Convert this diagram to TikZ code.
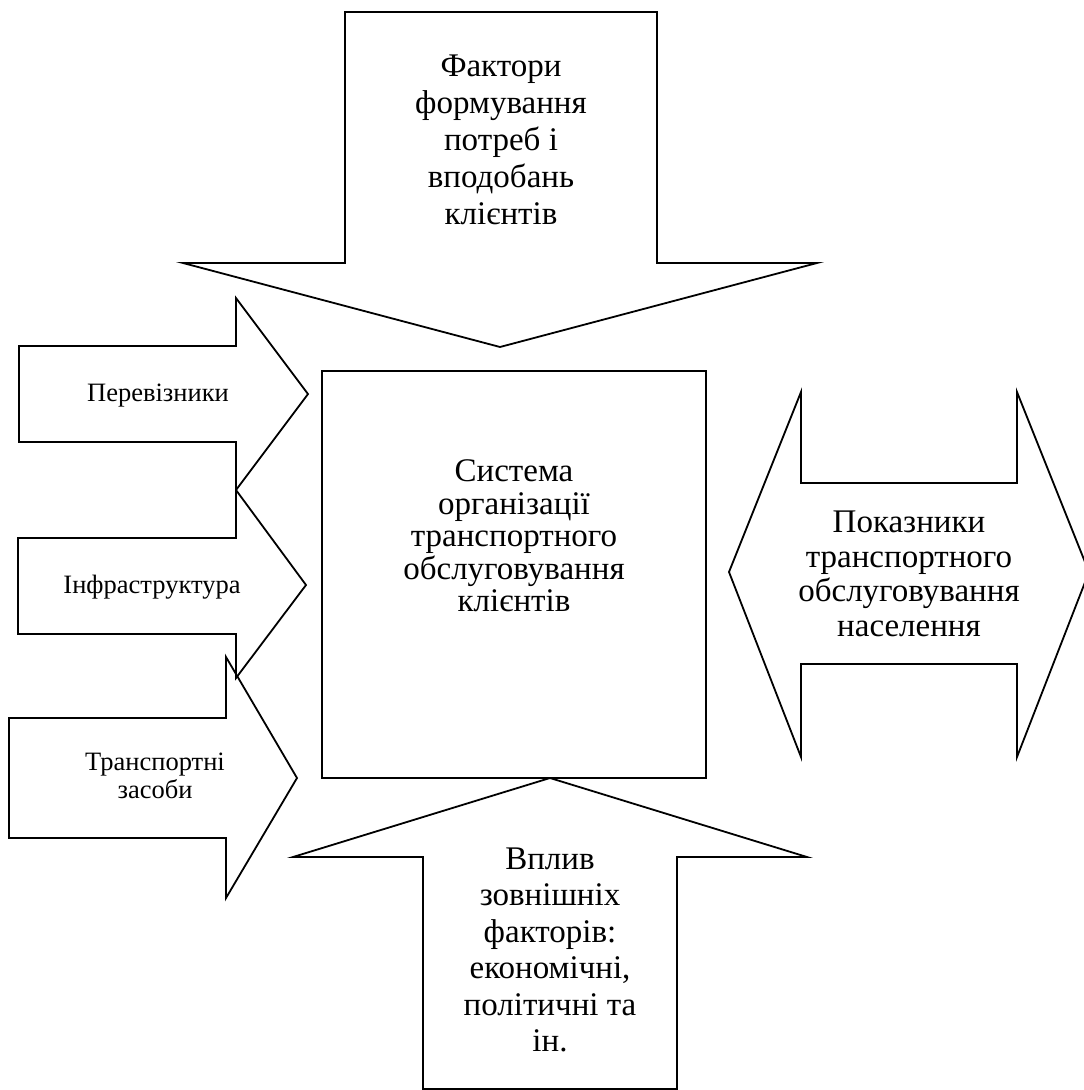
\documentclass[tikz,border=0pt]{standalone}
\usepackage{fontspec}
\setmainfont{Liberation Serif}
\usepackage{tikz}
\usetikzlibrary{positioning}
\definecolor{ink}{HTML}{000000}
\tikzset{
  blockarrow/.style={draw=ink,line width=1.8pt,line join=miter},
  sysbox/.style={draw=ink,line width=1.8pt,minimum width=384pt,minimum height=407pt,inner sep=0pt},
  bigtext/.style={font=\fontsize{33}{36.5}\selectfont,align=center,text=ink},
  smalltext/.style={font=\fontsize{26.5}{28}\selectfont,align=center,text=ink}
}
\begin{document}
\begin{tikzpicture}[x=1pt,y=-1pt]
  \useasboundingbox (0,0) rectangle (1084,1090);
  \clip (0,0) rectangle (1084,1090);
  % centre
  \node[sysbox] (sys) at (514,574.5) {};
  \node[bigtext,font=\fontsize{33}{32.5}\selectfont] (systext) at (514,536) {Система\\організації\\транспортного\\обслуговування\\клієнтів};
  % top arrow
  \draw[blockarrow] (345,12)--(657,12)--(657,263)--(817,263)--(500,347)--(183,263)--(345,263)--cycle;
  \node[bigtext,font=\fontsize{33}{37}\selectfont] (needs) at (501,140) {Фактори\\формування\\потреб і\\вподобань\\клієнтів};
  % left arrows
  \draw[blockarrow] (19,346)--(236,346)--(236,298)--(308,394)--(236,490)--(236,442)--(19,442)--cycle;
  \node[smalltext] (carriers) at (158,396) {Перевізники};
  \draw[blockarrow] (18,538)--(236,538)--(236,490)--(306,585)--(236,678)--(236,634)--(18,634)--cycle;
  \node[smalltext] (infra) at (152,587) {Інфраструктура};
  \draw[blockarrow] (9,718)--(226,718)--(226,657)--(297,778)--(226,898)--(226,838)--(9,838)--cycle;
  \node[smalltext] (vehicles) at (155,776) {Транспортні\\засоби};
  % right double arrow
  \draw[blockarrow] (729,572)--(801,392)--(801,483)--(1017,483)--(1017,392)--(1089,572)
    --(1017,757)--(1017,664)--(801,664)--(801,757)--cycle;
  \node[bigtext,font=\fontsize{33}{34.5}\selectfont] (indicators) at (909,574) {Показники\\транспортного\\обслуговування\\населення};
  % bottom arrow
  \draw[blockarrow] (550,778)--(807,857)--(677,857)--(677,1089)--(423,1089)--(423,857)--(293,857)--cycle;
  \node[bigtext] (external) at (550,950) {Вплив\\зовнішніх\\факторів:\\економічні,\\політичні та\\ін.};
\end{tikzpicture}
\end{document}
